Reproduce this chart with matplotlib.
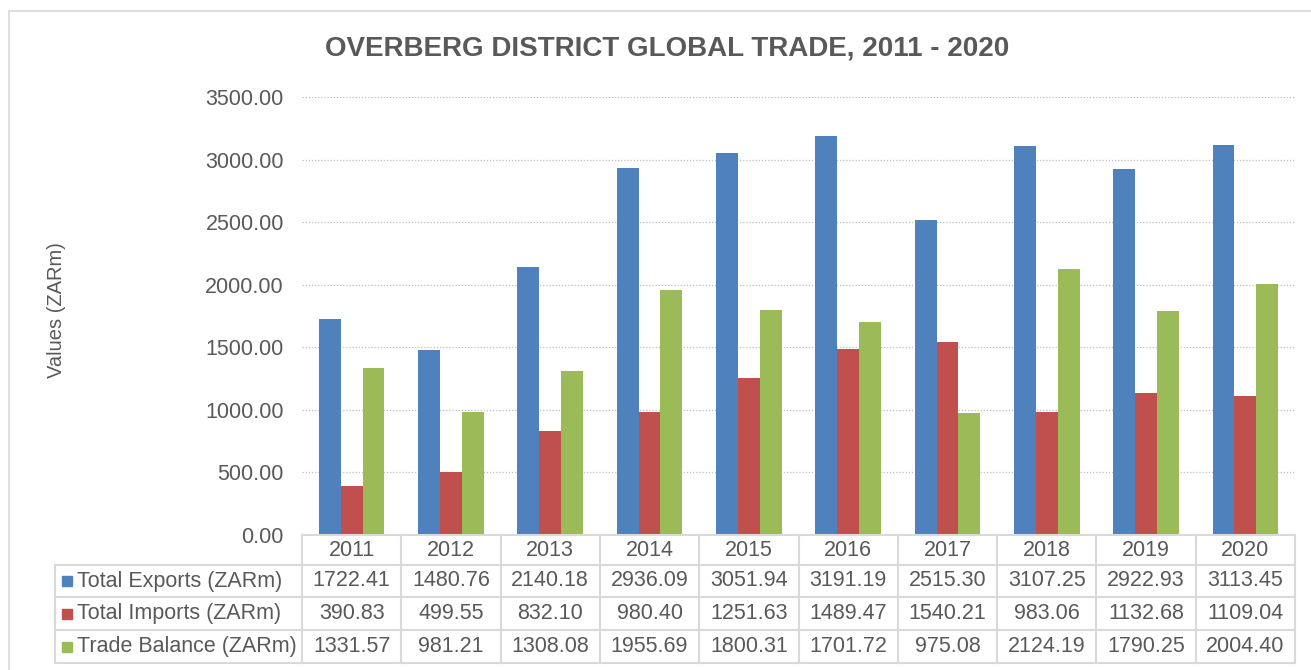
"""Overberg district global trade chart with Excel-style data table."""

import numpy as np
import matplotlib.pyplot as plt
from matplotlib.lines import Line2D
from matplotlib.patches import Rectangle

years = ["2011", "2012", "2013", "2014", "2015", "2016", "2017", "2018", "2019", "2020"]
exports = [1722.41, 1480.76, 2140.18, 2936.09, 3051.94, 3191.19, 2515.30, 3107.25, 2922.93, 3113.45]
imports = [390.83, 499.55, 832.10, 980.40, 1251.63, 1489.47, 1540.21, 983.06, 1132.68, 1109.04]
balance = [1331.57, 981.21, 1308.08, 1955.69, 1800.31, 1701.72, 975.08, 2124.19, 1790.25, 2004.40]
series_names = ["Total Exports (ZARm)", "Total Imports (ZARm)", "Trade Balance (ZARm)"]
colors = ["#4F81BD", "#C0504D", "#9BBB59"]

TEXT = "#595959"
GRID = "#D9D9D9"
W, H = 1311, 670
FS = 15.5

plt.rcParams["font.family"] = ["Liberation Sans", "DejaVu Sans"]

fig = plt.figure(figsize=(W / 100, H / 100), dpi=100)


def fx(px):
    return px / W


def fy(py):
    return 1 - py / H


# chart outer border (right and bottom edges fall outside the image)
fig.add_artist(Rectangle((fx(9), fy(690)), fx(1330) - fx(9), fy(11) - fy(690),
                         transform=fig.transFigure, fill=False, edgecolor=GRID, lw=1.2))

x0, x1 = 302, 1295
ax = fig.add_axes([fx(x0), fy(535), fx(x1) - fx(x0), fy(97) - fy(535)])

x = np.arange(len(years))
bw = 0.22
for i, (vals, c) in enumerate(zip([exports, imports, balance], colors)):
    ax.bar(x + (i - 1) * bw, vals, width=bw, color=c, zorder=3)

ax.set_xlim(-0.5, len(years) - 0.5)
ax.set_ylim(0, 3500)
ax.set_yticks(np.arange(0, 3501, 500))
ax.set_yticklabels([f"{v:.2f}" for v in np.arange(0, 3501, 500)], fontsize=FS, color=TEXT)
ax.tick_params(axis="y", length=0, pad=13)
ax.set_xticks([])
for s in ax.spines.values():
    s.set_visible(False)
ax.yaxis.grid(True, linestyle=(0, (1, 1.5)), color="#BFBFBF", lw=0.9, zorder=0)

fig.text(fx(57), fy(310), "Values (ZARm)", rotation=90, ha="center", va="center",
         fontsize=14.5, color=TEXT)
fig.text(fx(667), fy(48), "OVERBERG DISTRICT GLOBAL TRADE, 2011 - 2020", ha="center", va="center",
         fontsize=20, fontweight="bold", color=TEXT)

# data table
row_y = [535, 565, 597, 630, 663]
col_w = (x1 - x0) / len(years)
col_x = [x0 + k * col_w for k in range(len(years) + 1)]
lab_x0 = 55


def hline(px_a, px_b, py):
    fig.add_artist(Line2D([fx(px_a), fx(px_b)], [fy(py), fy(py)], transform=fig.transFigure,
                          color=GRID, lw=1.5))


def vline(px, py_a, py_b):
    fig.add_artist(Line2D([fx(px), fx(px)], [fy(py_a), fy(py_b)], transform=fig.transFigure,
                          color=GRID, lw=1.5))


hline(x0, x1, row_y[0])
for py in row_y[1:]:
    hline(lab_x0, x1, py)
for px in col_x:
    vline(px, row_y[0], row_y[-1])
vline(lab_x0, row_y[1], row_y[-1])

for k, yr in enumerate(years):
    fig.text(fx(col_x[k] + col_w / 2), fy((row_y[0] + row_y[1]) / 2), yr,
             ha="center", va="center", fontsize=FS, color=TEXT)

for r, (name, vals, c) in enumerate(zip(series_names, [exports, imports, balance], colors)):
    yc = (row_y[r + 1] + row_y[r + 2]) / 2
    fig.add_artist(Rectangle((fx(62), fy(yc + 5)), fx(10), fy(yc - 5) - fy(yc + 5),
                             transform=fig.transFigure, color=c))
    fig.text(fx(77), fy(yc), name, ha="left", va="center", fontsize=FS, color=TEXT)
    for k, v in enumerate(vals):
        fig.text(fx(col_x[k] + col_w / 2), fy(yc), f"{v:.2f}", ha="center", va="center",
                 fontsize=FS, color=TEXT)

fig.savefig("out.png", dpi=100)
